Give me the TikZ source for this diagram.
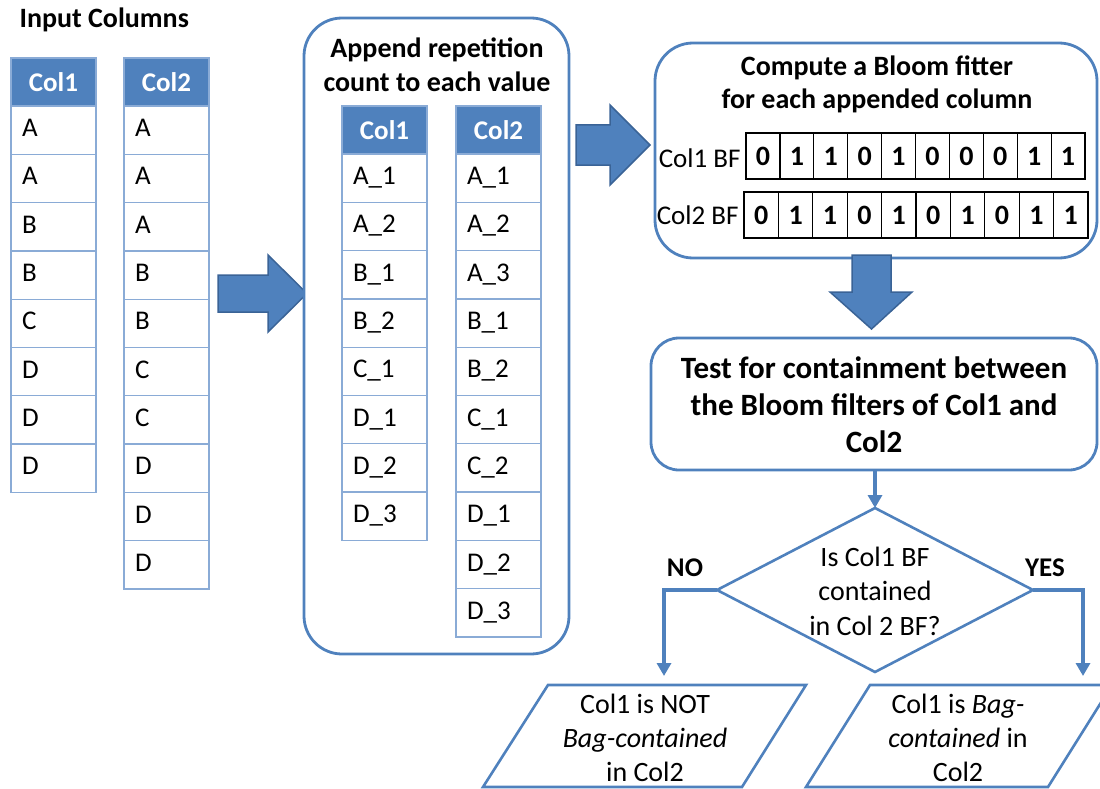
\documentclass[tikz,border=0pt]{standalone}
\usepackage{fontspec}
\setmainfont{Carlito}
\usetikzlibrary{shapes.geometric,arrows.meta,calc}

\definecolor{mainblue}{HTML}{4F81BD}
\definecolor{darkblue}{HTML}{3A6396}
\definecolor{gridblue}{HTML}{8AABD6}

\tikzset{
  txt/.style={font=\fontsize{28}{34}\selectfont},
  btxt/.style={font=\fontsize{28}{34}\selectfont\bfseries},
  hdr/.style={rectangle, fill=mainblue, draw=gridblue, line width=1.3pt,
    minimum width=85pt, minimum height=48pt, inner sep=0pt, outer sep=0pt,
    text=white, font=\fontsize{27}{32}\selectfont\bfseries},
  cell/.style={rectangle, draw=gridblue, line width=1.3pt, fill=white,
    minimum height=48.3pt, text width=63pt, inner xsep=11pt, inner ysep=0pt,
    outer sep=0pt, text height=19pt, text depth=6pt, align=left,
    font=\fontsize{27}{32}\selectfont},
  bit/.style={rectangle, draw=black, line width=1.2pt, minimum height=46pt,
    inner sep=0pt, outer sep=0pt, font=\fontsize{28}{32}\selectfont\bfseries},
  roundbox/.style={rectangle, draw=mainblue, line width=2.8pt, fill=white,
    rounded corners=38pt, inner sep=0pt, outer sep=0pt, anchor=north west},
  blockarrow/.style={fill=mainblue, draw=darkblue, line width=1.5pt, line join=miter},
  outline/.style={draw=mainblue, line width=2.6pt, line join=miter},
  flow/.style={draw=mainblue, line width=3.5pt,
    -{Triangle[width=14pt,length=13pt]}},
}

% A column table: name, left x, top y, header text, cell values
\newcommand{\datatable}[5]{%
  \node[hdr, anchor=north west] (#1-0) at (#2,#3) {#4};
  \foreach \v [count=\i, evaluate=\i as \j using int(\i-1)] in {#5}{
    \node[cell, anchor=north] (#1-\i) at (#1-\j.south) {\v};
  }%
}

% A row of Bloom filter bits: name, left x, top y, cell width, bits
\newcommand{\bitrow}[5]{%
  \foreach \d [count=\i] in {#5}{
    \node[bit, minimum width=#4pt, anchor=north west] (#1-\i)
      at ({#2+(\i-1)*#4},#3) {\d};
  }%
  \draw[line width=2.8pt] (#1-1.south west) -- (#1-10.south east);
}

\begin{document}
\begin{tikzpicture}[x=1pt,y=-1pt]
\useasboundingbox (0,0) rectangle (1100,789);
\clip (0,0) rectangle (1100,789);

% ---- input columns ----
\node[btxt, anchor=west] (intitle) at (16,20) {Input Columns};
\datatable{inA}{11}{58}{Col1}{A,A,B,B,C,D,D,D}
\datatable{inB}{124}{58}{Col2}{A,A,A,B,B,C,C,D,D,D}

% ---- first block arrow ----
\draw[blockarrow] (218,275) -- (268,275) -- (268,255) -- (307,293.5)
  -- (268,332) -- (268,312) -- (218,312) -- cycle;

% ---- appended columns ----
\node[roundbox, minimum width=265pt, minimum height=636pt] (appendbox) at (304,18) {};
\node[btxt, align=center] (appendtitle) at (437,65)
  {Append repetition\\count to each value};
\datatable{apA}{342}{106}{Col1}{A\_1,A\_2,B\_1,B\_2,C\_1,D\_1,D\_2,D\_3}
\datatable{apB}{456}{106}{Col2}{A\_1,A\_2,A\_3,B\_1,B\_2,C\_1,C\_2,D\_1,D\_2,D\_3}

% ---- second block arrow ----
\draw[blockarrow] (576,125) -- (610,125) -- (610,105) -- (650,145)
  -- (610,185) -- (610,165) -- (576,165) -- cycle;

% ---- Bloom filters ----
\node[roundbox, minimum width=442pt, minimum height=215pt] (bloombox) at (655,43) {};
\node[align=center, font=\fontsize{28}{33}\selectfont\bfseries] (bloomtitle) at (877,84)
  {Compute a Bloom fitter\\for each appended column};
\node[anchor=east, font=\fontsize{27}{32}\selectfont] (bf1label) at (744,158) {Col1 BF};
\node[anchor=east, font=\fontsize{27}{32}\selectfont] (bf2label) at (742,215) {Col2 BF};
\bitrow{bfA}{746}{133}{33.9}{0,1,1,0,1,0,0,0,1,1}
\bitrow{bfB}{744}{192}{34.4}{0,1,1,0,1,0,1,0,1,1}

% ---- third block arrow ----
\draw[blockarrow] (852,255) -- (891,255) -- (891,292) -- (912,292)
  -- (871.5,329) -- (830,292) -- (852,292) -- cycle;

% ---- containment test ----
\node[roundbox, rounded corners=28pt, minimum width=446pt, minimum height=132pt] (testbox) at (651,338) {};
\node[align=center, font=\fontsize{31}{37}\selectfont\bfseries] (testtext) at (874,405)
  {Test for containment between\\the Bloom filters of Col1 and\\Col2};

% ---- decision ----
\node[diamond, draw=mainblue, line width=2.6pt, fill=white, minimum width=316pt,
  minimum height=164pt, inner sep=0pt, outer sep=0pt] (dec) at (875,590) {};
\node[align=center, font=\fontsize{28}{34.5}\selectfont] (dectext) at (875,591)
  {Is Col1 BF\\contained\\in Col 2 BF?};
\draw[flow] (dec.north |- testbox.south) -- (dec.north);

\node[font=\fontsize{27}{32}\selectfont\bfseries] (nolabel) at (685,568) {NO};
\node[font=\fontsize{27}{32}\selectfont\bfseries] (yeslabel) at (1045,568) {YES};

% ---- outcomes ----
\coordinate (noend) at (664,676);
\coordinate (yesend) at (1083,676);
\draw[flow] (dec.west) -| (noend);
\draw[flow] (dec.east) -| (yesend);

\draw[outline] (548,685) coordinate (n1) -- (806,685) coordinate (n2)
  -- (742,787) coordinate (n3) -- (483,787) coordinate (n4) -- cycle;
\node[txt, align=center] (notbag) at (645,737.5)
  {Col1 is NOT\\\textit{Bag-contained}\\in Col2};

\draw[outline] (870,685) coordinate (y1) -- (1112,685) coordinate (y2)
  -- (1048,787) coordinate (y3) -- (806,787) coordinate (y4) -- cycle;
\node[txt, align=center] (isbag) at (958,737.5)
  {Col1 is \textit{Bag-}\\\textit{contained} in\\Col2};

\end{tikzpicture}
\end{document}
